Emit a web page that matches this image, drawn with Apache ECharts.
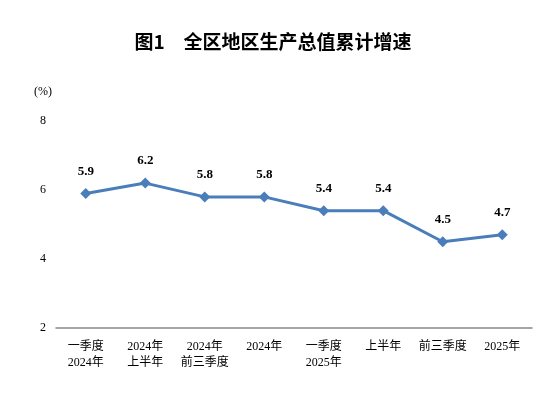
<!DOCTYPE html>
<html><head><meta charset="utf-8">
<script src="https://cdn.jsdelivr.net/npm/echarts@6/dist/echarts.min.js"></script>
<style>html,body{margin:0;padding:0;background:#fff}#c{width:546px;height:398px}</style>
</head><body><div id="c"></div>
<script>
const titleText = '图1　全区地区生产总值累计增速';
const categories = ['一季度\n2024年','2024年\n上半年','2024年\n前三季度','2024年','一季度\n2025年','上半年','前三季度','2025年'];
const growth = [5.9, 6.2, 5.8, 5.8, 5.4, 5.4, 4.5, 4.7];
const yTicks = [2, 4, 6, 8];
const unitLabel = '(%)';

const serif = '"Liberation Serif","Noto Sans CJK SC",serif';
const chart = echarts.init(document.getElementById('c'));
chart.setOption({
  animation: false,
  title: {
    text: titleText, left: 'center', top: 27,
    textStyle: { fontFamily: '"Noto Sans CJK SC",sans-serif', fontSize: 19, fontWeight: 'bold', color: '#000' }
  },
  graphic: [{
    type: 'text', left: 34, top: 86,
    style: { text: unitLabel, font: '12px ' + serif, fill: '#000' }
  }],
  grid: { left: 56, right: 14, top: 121, bottom: 70, containLabel: false },
  xAxis: {
    type: 'category', data: categories, boundaryGap: true,
    axisLine: { show: true, lineStyle: { color: '#888', width: 1.5 } },
    axisTick: { show: false },
    axisLabel: { interval: 0, margin: 11, fontFamily: serif, fontSize: 12, color: '#000', lineHeight: 16 }
  },
  yAxis: {
    type: 'value', min: yTicks[0], max: yTicks[yTicks.length-1], interval: 2,
    axisLine: { show: false }, axisTick: { show: false }, splitLine: { show: false },
    axisLabel: { margin: 10, fontFamily: serif, fontSize: 12, color: '#000' }
  },
  series: [{
    type: 'line', data: growth,
    symbol: 'diamond', symbolSize: 11,
    lineStyle: { color: '#4a7ebb', width: 3 },
    itemStyle: { color: '#4a7ebb' },
    label: { show: true, position: 'top', distance: 10, fontFamily: serif, fontSize: 13, fontWeight: 'bold', color: '#000', formatter: p => p.value.toFixed(1) }
  }]
});
</script></body></html>
